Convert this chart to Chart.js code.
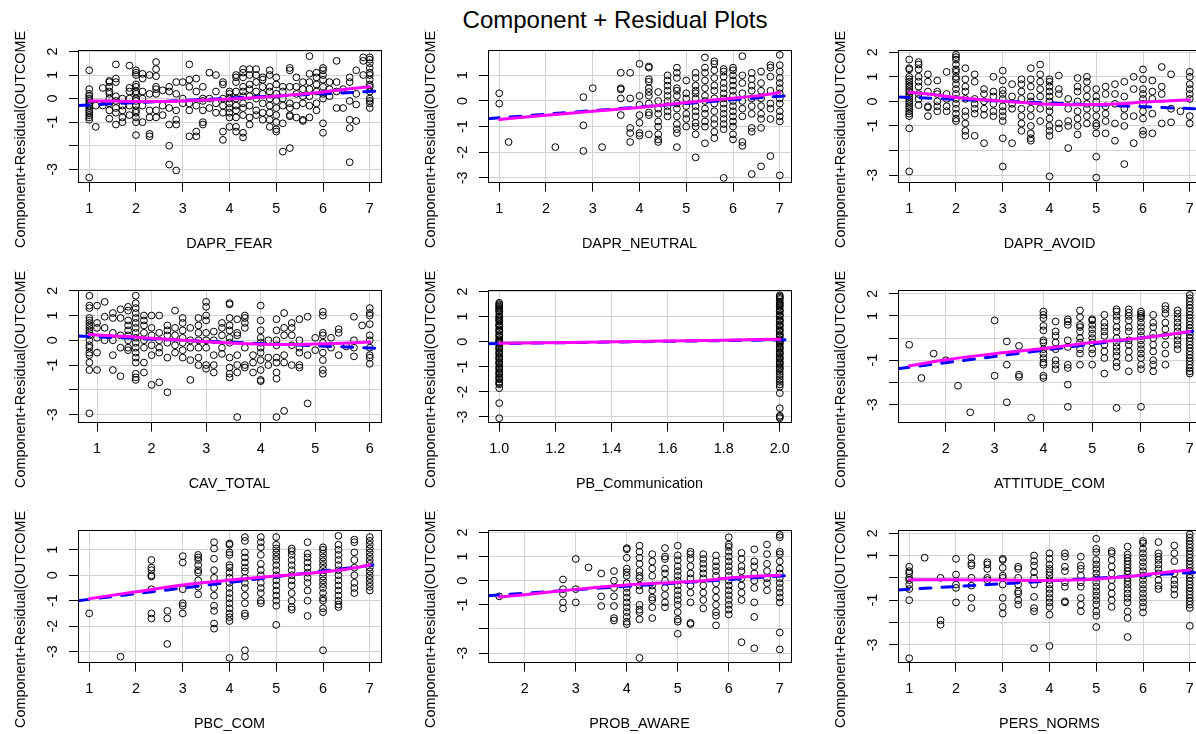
<!DOCTYPE html>
<html>
<head>
<meta charset="utf-8">
<script src="https://cdn.jsdelivr.net/npm/chart.js@4.4.1/dist/chart.umd.min.js"></script>
<style>
  html, body { margin: 0; padding: 0; background: #fff; width: 1196px; height: 734px; overflow: hidden; position: relative; }
  #mainTitle { position: absolute; left: 0; top: 8px; width: 1230px; text-align: center;
    font: 24px "Liberation Sans", Arial, sans-serif; line-height: 24px; color: #000; }
  canvas.panel { position: absolute; }
</style>
</head>
<body>
<div id="mainTitle">Component + Residual Plots</div>
<script>
// ---------- shared labels ----------
const Y_TITLE = 'Component+Residual(OUTCOME)';
const panelNames = ['DAPR_FEAR', 'DAPR_NEUTRAL', 'DAPR_AVOID', 'CAV_TOTAL', 'PB_Communication',
                    'ATTITUDE_COM', 'PBC_COM', 'PROB_AWARE', 'PERS_NORMS'];

// ---------- DAPR_FEAR ----------
const fearX = [1,1.14,1.29,1.43,1.57,1.71,1.86,2,2.14,2.29,2.43,2.57,2.71,2.86,3,3.14,3.29,3.43,3.57,3.71,3.86,4,4.14,4.29,4.43,4.57,4.71,4.86,5,5.14,5.29,5.43,5.57,5.71,5.86,6,6.14,6.29,6.43,6.57,6.71,6.86,7];
const fearY = [
  [1.2,0.4,0.2,0.1,0,-0.1,-0.2,-0.3,-0.4,-0.5,-0.6,-0.7,-0.8,-0.9,-3.35],
  [-1.2,-0.3],
  [0.45,-0.3],
  [0.75,0.7,0.5,0.3,0.2,0,-0.2,-0.5,-0.85],
  [1.45,0.85,0.7,0.1,-0.1,-0.4,-0.6,-1.1],
  [0,-0.3,-0.5,-0.8,-1.0],
  [1.4,0.45,0.3,0,-0.3,-0.7],
  [1.2,1.1,1.0,0.6,0.5,0.3,0.2,0,-0.1,-0.3,-0.5,-0.6,-0.8,-1.0,-1.55],
  [1.05,0.85,0.3,0,-0.3,-1.0],
  [1.0,0.2,-0.5,-0.8,-1.5,-1.6],
  [1.55,1.25,0.95,0.5,0.4,0.2,-0.5,-0.8],
  [0.35,-0.3,-0.7],
  [0.5,0.3,-0.4,-1.1,-2.0,-2.8],
  [0.7,0.2,-0.5,-0.9,-1.1,-3.05],
  [0.7,0,-0.2],
  [1.45,0.8,0.5,-0.2,-0.5,-1.6],
  [0.85,0.3,-0.3,-1.4,-1.6],
  [0.5,0,-0.1,-0.5,-1.0,-1.1],
  [1.1,0,-0.4],
  [1.0,0.3,-0.2,-0.6],
  [0.7,0.6,0,-0.3,-0.6,-1.4,-1.75],
  [0.3,0.2,0,-0.2,-0.4,-0.6,-0.8,-1.2],
  [1.0,0.9,0.7,0.3,0,-0.3,-0.5,-0.8,-1.2,-1.4],
  [1.25,1.1,0.9,0.5,0.3,0.1,-0.2,-0.4,-0.7,-1.45,-1.65],
  [1.25,1.0,0.6,0.4,0.1,-0.3,-0.8,-1.1],
  [1.25,1.0,0.7,0.3,0,-0.5,-0.7],
  [0.9,0.8,0.5,0.2,-0.2,-0.6,-0.9],
  [1.2,1.0,0.5,0.3,0,-0.3,-0.6,-0.9,-1.2],
  [0.9,0.6,0.2,-0.1,-0.4,-0.7,-1.0,-1.3,-1.4],
  [0.5,0.3,0,-0.3,-1.05,-2.25],
  [1.3,1.2,0.5,-0.2,-0.4,-0.7,-0.75,-2.1],
  [0.9,0.5,0.2,-0.3,-0.8],
  [0.7,0.4,0.1,-0.2,-0.9,-0.95],
  [1.8,1.05,0.7,0.4,0.1,-0.3,-0.8],
  [1.1,0.9,0.6,0.3,-0.2,-0.5],
  [1.3,1.2,1.0,0.8,0.5,0.2,0,-1.05,-1.45],
  [0.7,0.4,0.1],
  [1.6,0.7,0.3,-0.4],
  [0.4,-0.4],
  [0.9,0.7,-0.1,-0.9,-1.25,-2.7],
  [1.2,0.2,-0.25,-0.95],
  [1.75,1.6,1.0],
  [1.75,1.65,1.5,1.3,1.1,1.0,0.8,0.6,0.5,0.3,0,-0.1,-0.2,-0.4]
];
const fearFit = [[0.76,-0.29],[7.24,0.32]];
const fearSmooth = [[1,-0.1],[1.5,-0.1],[2,-0.12],[2.5,-0.12],[3,-0.1],[3.5,-0.06],[4,-0.02],[4.5,0.04],[5,0.1],[5.5,0.18],[6,0.28],[6.5,0.4],[7,0.5]];

// ---------- DAPR_NEUTRAL ----------
const neutralX = [1,1.2,2.2,2.8,3,3.2,3.6,3.8,4,4.2,4.4,4.6,4.8,5,5.2,5.4,5.6,5.8,6,6.2,6.4,6.6,6.8,7];
const neutralY = [
  [0.3,-0.1],
  [-1.6],
  [-1.8],
  [0.15,-0.95,-1.95],
  [0.5],
  [-1.8],
  [1.1,0.5,0.45,0.1,-0.55],
  [1.1,0.1,-1.05,-1.25,-1.6],
  [1.45,0.2,-0.15,-0.55,-0.85,-1.25,-1.35],
  [1.35,1.3,0.85,0.75,0.5,0.35,0.2,-0.1,-0.45,-0.55,-1.3],
  [0.35,0,-0.3,-0.5,-0.8,-1.0,-1.3,-1.5,-1.6],
  [1.0,0.8,0.6,0.4,0.2,0,-0.2,-0.4,-0.6],
  [1.3,1.1,0.9,0.5,0.4,0.2,-0.1,-0.3,-0.6,-0.9,-1.1,-1.25,-1.8],
  [0.8,0.3,0.1,-0.2,-0.5,-0.7,-1.0],
  [1.1,0.9,0.6,0.4,0.3,0.1,-0.2,-0.4,-0.6,-0.85,-1.0,-1.3,-2.2],
  [1.7,1.3,1.1,0.8,0.5,0.2,0,-0.3,-0.5,-0.8,-1.0,-1.65],
  [1.55,1.45,1.2,0.9,0.6,0.4,0.1,-0.1,-0.4,-0.7,-0.9,-1.2,-1.45],
  [1.25,1.15,0.95,0.7,0.5,0.3,0.1,-0.1,-0.3,-0.5,-0.7,-0.9,-1.1,-3.0],
  [1.3,1.2,1.0,0.8,0.6,0.4,0.2,0,-0.2,-0.4,-0.6,-0.8,-1.0,-1.3,-1.5],
  [1.75,1.0,0.7,0.3,0,-0.3,-0.6,-1.6,-1.75],
  [1.1,0.85,0.6,0.4,0.1,-0.2,-0.5,-1.05,-1.2,-2.85],
  [1.15,0.7,0.4,0.1,-0.2,-0.5,-0.7,-1.05,-2.55],
  [1.4,1.3,0.95,0.4,-0.1,-0.3,-0.7,-2.15],
  [1.8,1.4,1.15,0.9,0.7,0.5,0.3,0.1,-0.1,-0.4,-0.6,-0.8,-2.9]
];
const neutralFit = [[0.76,-0.69],[7.24,0.22]];
const neutralSmooth = [[1,-0.72],[2,-0.56],[3,-0.4],[4,-0.25],[4.5,-0.16],[5,-0.06],[5.5,0.03],[6,0.11],[6.5,0.2],[7,0.33]];

// ---------- DAPR_AVOID ----------
const avoidX = [1,1.2,1.4,1.6,1.8,2,2.2,2.4,2.6,2.8,3,3.2,3.4,3.6,3.8,4,4.2,4.4,4.6,4.8,5,5.2,5.4,5.6,5.8,6,6.2,6.4,6.6,6.8,7];
const avoidY = [
  [1.7,1.35,1.3,1.0,0.9,0.8,0.7,0.6,0.5,0.4,0.3,0.2,0.1,0,-0.1,-0.2,-0.3,-0.4,-0.5,-0.6,-1.1,-2.85],
  [1.6,1.5,1.3,1.0,0.8,0.6,0.3,0.1,-0.15],
  [1.1,0.8,0.4,-0.2,-0.25,-0.6],
  [0.85,0.4,0.3,0,-0.2,-0.4],
  [1.2,0.3,0.1,-0.2,-0.4],
  [1.9,1.8,1.7,1.5,1.3,1.2,1.0,0.9,0.7,0.5,0.3,0.1,-0.1,-0.3,-0.5,-0.7,-0.8],
  [1.35,0.9,0.6,0.4,0.1,-0.4,-0.6,-0.9,-1.2,-1.4],
  [1.1,0.8,0.1,-0.1,-0.3,-0.5,-1.4],
  [0.5,0.3,0,-0.3,-0.55,-1.7],
  [1.0,0.4,0.2,-0.1,-0.4,-0.6],
  [1.25,0.85,0.45,0.3,0.1,-0.2,-0.4,-0.6,-0.8,-1.5,-2.65],
  [0.7,0.2,-0.1,-0.3,-1.7],
  [0.9,0.7,0.4,0.1,-0.3,-0.6,-0.9,-1.2],
  [1.35,0.9,0.6,0.2,0,-0.3,-0.6,-1.0,-1.3,-1.5,-1.6],
  [1.5,1.1,0.8,0.5,0.2,-0.3,-0.8],
  [0.9,0.8,0.6,0.4,0.2,0,-0.2,-0.4,-0.7,-1.0,-1.2,-1.4,-3.05],
  [1.05,0.5,0.3,-0.9,-1.1],
  [0.1,-0.3,-0.8,-1.0,-1.9],
  [0.95,0.6,0.4,0,-0.4,-0.7,-1.0,-1.35],
  [1.0,0.8,0.5,0.2,-0.1,-0.3,-0.6,-0.9],
  [0.5,0.2,0,-0.3,-0.6,-0.9,-1.0,-1.3,-2.25,-3.1],
  [0.6,0.3,-0.2,-0.5,-0.8,-1.3],
  [0.7,0.3,-0.1,-0.9,-1.6],
  [0.8,0.2,-0.3,-0.6,-1.0,-2.55],
  [1.0,0.5,-0.6,-1.7],
  [1.3,0.9,0.5,0.3,0.1,-0.1,-0.4,-0.7,-1.2,-1.35],
  [0.85,0.4,0.1,-0.5,-1.3],
  [1.4,0.6,0.3,-0.9],
  [1.1,-0.3,-0.85],
  [-0.4],
  [1.2,1.0,0.7,0.5,0.3,0.1,-0.6,-0.9]
];
const avoidFit = [[0.76,0.18],[7.24,-0.31]];
const avoidSmooth = [[1,0.37],[1.5,0.28],[2,0.16],[2.5,0.08],[3,0.01],[3.5,-0.06],[4,-0.12],[4.5,-0.14],[5,-0.13],[5.5,-0.1],[6,-0.03],[6.5,0.02],[7,0.07]];

// ---------- CAV_TOTAL ----------
const cavX = [0.86,1,1.14,1.29,1.43,1.57,1.71,1.86,2,2.14,2.29,2.43,2.57,2.71,2.86,3,3.14,3.29,3.43,3.57,3.71,3.86,4,4.14,4.29,4.43,4.57,4.71,4.86,5,5.14,5.29,5.43,5.57,5.71,5.86,6];
const cavY = [
  [1.8,1.4,1.3,0.9,0.8,0.7,0.6,0.5,0.4,0.3,0.2,0,-0.2,-0.3,-0.5,-0.6,-0.9,-1.2,-2.95],
  [1.4,0.7,0.5,0.1,-0.5,-1.2],
  [1.55,0.95,0.5,0],
  [1.1,0.9,0.3,0,-0.6,-1.2],
  [1.25,0.9,0.2,-0.3,-1.45],
  [1.35,1.2,0.8,0.6,0.4,0.2,0,-0.3,-0.4],
  [1.8,1.5,1.3,1.1,0.9,0.7,0.5,0.3,0.1,-0.1,-0.3,-0.5,-0.7,-0.9,-1.35,-1.5,-1.6],
  [1.0,0.8,0.6,0.3,0,-0.3,-0.9,-1.3],
  [1.0,0.5,0.2,-0.2,-0.6,-1.8],
  [1.0,0.3,0,-0.3,-0.5,-1.7],
  [0.6,0.4,0.2,-0.1,-0.7,-2.1],
  [1.2,0.5,0.2,-0.2,-0.5],
  [0.9,0.7,0.4,0.1,-0.1,-0.4,-0.7],
  [0.5,0,-0.3,-0.8,-1.6],
  [0.9,0.6,0.3,0,-0.3,-0.7,-1.0],
  [1.55,1.35,1.0,0.8,0.3,0,-0.3,-1.0,-1.15],
  [0.35,0,-0.6,-1.0,-1.3],
  [0.7,0.5,0.2,-0.3,-0.55],
  [1.5,1.45,0.9,0.6,0.4,0.1,-0.1,-0.7,-1.1,-1.35,-1.5],
  [0.85,0.3,0.2,-0.6,-1.0,-1.3,-3.1],
  [1.0,0.9,0.7,0.5,-0.3,-1.0,-1.1],
  [-0.6,-0.9,-1.3],
  [1.4,0.8,0.4,0.1,-0.1,-0.3,-0.5,-0.8,-1.2,-1.6,-1.65],
  [0,-0.7,-1.0],
  [0.85,0.4,0,-0.2,-0.7,-0.9,-1.3,-1.55,-3.1],
  [1.1,0.5,0.2,-0.6,-0.9,-2.85],
  [0.7,0.5,0.2,-0.2,-1.0],
  [0.85,0,-0.3,-0.5,-1.0,-1.1],
  [0.95,-0.6,-2.55],
  [0.1,-0.4],
  [1.15,1.0,0.3,0.2,-0.1,-0.5,-0.8,-1.2,-1.35],
  [0.1,-0.3],
  [0.45,0.3,-0.6],
  [-0.25],
  [0.95,0,-0.3,-0.65],
  [0.6],
  [1.3,1.1,1.0,0.65,0.2,0,-0.3,-0.6,-0.7,-0.95]
];
const cavFit = [[0.651,0.17],[6.206,-0.33]];
const cavSmooth = [[0.86,0.23],[1.5,0.16],[2,0.08],[2.5,0.01],[3,-0.06],[3.5,-0.12],[4,-0.16],[4.5,-0.17],[5,-0.15],[5.5,-0.12],[6,-0.07]];

// ---------- PB_Communication ----------
const commX = [1, 2];
const commY = [
  [1.55,1.5,1.45,1.4,1.35,1.3,1.25,1.2,1.1,1.0,0.95,0.9,0.85,0.8,0.7,0.65,0.6,0.5,0.45,0.4,0.3,0.25,0.2,0.1,0.05,0,-0.05,-0.1,-0.2,-0.25,-0.3,-0.4,-0.45,-0.5,-0.6,-0.65,-0.7,-0.8,-0.85,-0.9,-1.0,-1.05,-1.1,-1.2,-1.25,-1.3,-1.4,-1.45,-1.5,-1.6,-1.65,-1.7,-1.85,-2.45,-3.05],
  [1.85,1.8,1.75,1.7,1.6,1.55,1.5,1.45,1.4,1.3,1.25,1.2,1.1,1.05,1.0,0.9,0.85,0.8,0.7,0.65,0.6,0.5,0.45,0.4,0.3,0.25,0.2,0.1,0.05,0,-0.05,-0.1,-0.2,-0.25,-0.3,-0.4,-0.45,-0.5,-0.6,-0.65,-0.7,-0.8,-0.85,-0.9,-1.0,-1.05,-1.1,-1.2,-1.3,-1.4,-1.5,-1.6,-1.7,-1.8,-2.05,-2.65,-2.95,-3.0,-3.05]
];
const commFit = [[0.96,-0.08],[2.04,0.08]];
const commSmooth = [[1,-0.06],[1.25,-0.03],[1.5,0.01],[1.75,0.05],[2,0.1]];

// ---------- ATTITUDE_COM ----------
const attX = [1.25,1.5,1.75,2,2.25,2.5,3,3.25,3.5,3.75,4,4.25,4.5,4.75,5,5.25,5.5,5.75,6,6.25,6.5,6.75,7];
const attY = [
  [-0.3],
  [-1.8],
  [-0.7],
  [-1.0],
  [-2.15],
  [-3.35],
  [0.8,-1.7],
  [-0.15,-1.2,-2.9],
  [-0.35,-1.65,-1.75],
  [-3.6],
  [1.2,1.05,0.9,0.55,0.35,-0.1,-0.2,-0.5,-0.7,-0.9,-1.1,-1.2,-1.7,-1.8],
  [0.75,0.3,0.1,-0.2,-0.5,-1.0,-1.2,-1.4],
  [0.85,0.75,0.6,-0.1,-0.4,-1.2,-1.35,-2.1,-3.1],
  [1.25,0.95,0.6,0.5,0.3,0,-0.2,-0.5,-0.7,-1.2],
  [0.85,0.8,0.6,0.4,0.2,0,-0.2,-0.5,-0.7,-1.2],
  [1.05,0.7,0.5,0.3,0.1,-0.3,-0.6,-0.9,-1.6],
  [1.3,1.2,1.0,0.8,0.5,0.3,0,-0.2,-0.4,-0.6,-0.8,-1.1,-1.3,-3.15],
  [1.3,1.15,1.0,0.8,0.5,0.3,-0.1,-0.3,-0.6,-0.9,-1.5],
  [1.2,1.1,1.0,0.9,0.7,0.5,0.3,0.1,-0.1,-0.3,-0.5,-0.7,-0.9,-1.2,-1.4,-3.1],
  [1.05,0.7,0.5,0.2,0,-0.3,-0.6,-1.0,-1.2,-1.5],
  [1.45,1.3,1.1,0.7,0.4,0.1,-0.3,-0.7,-1.2],
  [1.25,1.1,0.9,0.7,0.5,0.3,0.1,-0.1,-0.3,-0.5],
  [1.95,1.8,1.65,1.5,1.35,1.2,1.05,0.9,0.75,0.6,0.45,0.3,0.15,0,-0.15,-0.3,-0.45,-0.6,-0.75,-0.9,-1.05,-1.2,-1.35,-1.5,-1.6]
];
const attFit = [[1.02,-1.38],[7.23,0.35]];
const attSmooth = [[1.25,-1.25],[2,-0.98],[3,-0.7],[4,-0.47],[5,-0.2],[6,0.0],[7,0.3]];

// ---------- PBC_COM ----------
const pbcX = [1,1.67,2.33,2.67,3,3.33,3.67,4,4.33,4.67,5,5.33,5.67,6,6.33,6.67,7];
const pbcY = [
  [-1.5],
  [-3.2],
  [0.6,0.3,0.2,0,-0.05,-0.55,-1.5,-1.7],
  [-1.4,-1.7,-2.7],
  [0.75,0.5,-0.55,-1.1,-1.2,-1.5],
  [0.8,0.7,0.6,0.4,0.2,0.1,-0.2,-0.45,-0.75],
  [1.3,1.05,0.65,0.2,-0.1,-0.5,-0.8,-1.2,-1.4,-1.9,-2.1],
  [1.25,1.2,0.9,0.8,0.4,0.3,0.1,-0.1,-0.3,-0.5,-0.7,-0.9,-1.1,-1.3,-1.5,-1.65,-1.8,-3.25],
  [1.5,1.35,0.9,0.7,0.5,0.3,0.15,-0.1,-0.3,-0.5,-0.8,-1.1,-1.5,-1.6,-2.95,-3.2],
  [1.5,1.3,1.1,0.8,0.45,0.2,0,-0.3,-0.5,-0.7,-1.0,-1.1],
  [1.5,1.2,1.05,0.9,0.75,0.6,0.4,0.2,0,-0.2,-0.4,-0.6,-0.8,-1.0,-1.2,-1.95],
  [1.05,0.95,0.8,0.6,0.4,0.2,0,-0.2,-0.4,-0.7,-1.0,-1.25,-1.35],
  [1.3,0.85,0.7,0.5,0.3,0.1,-0.1,-0.3,-0.6,-1.0,-1.6],
  [1.1,1.0,0.85,0.7,0.55,0.4,0.25,0.1,-0.05,-0.2,-0.35,-0.5,-0.7,-0.9,-1.0,-1.3,-1.45,-2.95],
  [1.55,1.2,1.0,0.8,0.6,0.4,0.2,0,-0.2,-0.4,-0.6,-0.8,-1.0,-1.15,-1.25],
  [1.4,1.3,0.9,0.6,0.3,0,-0.3,-0.5,-0.7],
  [1.5,1.35,1.2,1.05,0.9,0.75,0.6,0.45,0.3,0.15,0,-0.15,-0.3,-0.45,-0.6]
];
const pbcFit = [[0.76,-1.0],[7.24,0.44]];
const pbcSmooth = [[1,-0.92],[2,-0.65],[3,-0.38],[4,-0.19],[5,-0.03],[6,0.13],[6.5,0.24],[7,0.4]];

// ---------- PROB_AWARE ----------
const awareX = [1.5,2.75,3,3.25,3.5,3.75,4,4.25,4.5,4.75,5,5.25,5.5,5.75,6,6.25,6.5,6.75,7];
const awareY = [
  [-0.65],
  [0.05,-0.35,-0.55,-0.9,-1.15],
  [0.9,-0.35,-0.9],
  [0.55],
  [0.3,-0.65,-1.05],
  [0.4,0,-0.3,-0.65,-1.05,-1.55,-1.65],
  [1.35,1.3,0.95,0.5,0.35,0.2,-0.1,-0.3,-0.5,-0.7,-0.9,-1.1,-1.3,-1.5,-1.7,-1.8],
  [1.45,1.2,0.95,0.7,0.4,0.2,0.1,-0.2,-0.4,-1.0,-1.2,-1.3,-1.6,-3.2],
  [1.1,0.8,0.5,0.2,-0.2,-0.4,-0.7,-0.8,-1.1,-1.55],
  [1.35,1.0,0.9,0.5,0.3,0,-0.3,-0.6,-0.9,-1.1],
  [1.45,1.05,0.85,0.6,0.4,0.2,0,-0.2,-0.4,-0.6,-0.8,-1.0,-1.3,-1.6,-1.7,-2.2],
  [1.2,1.1,0.9,0.6,0.3,0.1,-0.2,-0.5,-0.9,-1.75,-1.8],
  [1.1,0.9,0.7,0.5,0.3,0.1,-0.2,-0.5,-0.8,-1.15],
  [1.05,0.8,0.6,0.4,0.2,-0.1,-0.4,-0.7,-1.0,-1.3,-1.45,-1.85],
  [1.8,1.5,1.4,1.2,1.0,0.8,0.6,0.4,0.2,0,-0.2,-0.4,-0.6,-0.8,-1.0,-1.2,-1.4],
  [1.15,0.9,0.6,0.4,0.1,-0.2,-0.5,-0.8,-2.55],
  [1.3,0.8,0.6,0.3,0,-0.3,-0.9,-1.5,-2.8],
  [1.5,1.1,0.7,0.4,0.1,-0.1,-0.4],
  [1.9,1.8,1.2,1.1,0.8,0.5,0.3,0.1,-0.1,-0.3,-0.5,-0.7,-0.9,-2.15,-2.85]
];
const awareFit = [[1.28,-0.62],[7.22,0.22]];
const awareSmooth = [[1.5,-0.68],[2,-0.58],[3,-0.36],[4,-0.18],[5,-0.06],[5.5,0.0],[6,0.11],[6.5,0.18],[7,0.23]];

// ---------- PERS_NORMS ----------
const normsX = [1,1.33,1.67,2,2.33,2.67,3,3.33,3.67,4,4.33,4.67,5,5.33,5.67,6,6.33,6.67,7];
const normsY = [
  [0.5,0.3,0.2,0,-0.1,-0.3,-0.5,-1.0,-3.6],
  [0.9],
  [0,-1.9,-2.1],
  [0.85,0.15,-0.3,-0.45,-1.1],
  [0.9,0.65,0.55,0,-0.35,-0.9,-1.35],
  [0.7,0.6,0.4,0,-0.1],
  [0.85,0.8,0.45,0.1,0,-0.3,-0.9,-1.3,-1.6],
  [0.5,0.4,0,-0.3,-0.6,-0.7,-1.0,-1.2],
  [1.0,0.75,0.55,0.25,0,-0.3,-0.85,-1.35,-1.5,-3.15],
  [1.1,0.85,0.6,0.4,0.25,0.1,-0.1,-0.3,-0.5,-0.7,-0.9,-1.1,-1.3,-1.65,-3.05],
  [1.1,0.95,0.5,0.3,-0.2,-0.4,-1.05,-1.1],
  [0.95,0.55,0.4,0.1,-0.2,-0.4,-0.9,-1.2,-1.5],
  [1.75,1.3,1.15,0.8,0.6,0.4,0.2,0,-0.2,-0.4,-0.6,-0.8,-1.0,-1.2,-1.5,-1.7,-2.2],
  [1.2,1.1,0.8,0.5,0.2,-0.1,-0.4,-0.7,-1.0,-1.3],
  [1.4,1.05,0.9,0.75,0.6,0.45,0.3,0.15,0,-0.15,-0.3,-0.5,-0.7,-0.9,-1.1,-1.5,-1.8,-2.65],
  [1.65,1.55,1.3,1.1,0.9,0.7,0.5,0.3,0.1,-0.1,-0.3,-0.5,-0.7,-0.9,-1.1,-1.3,-1.55],
  [1.6,1.1,0.95,0.8,0.6,0.4,0.2,-0.1,-0.35,-0.5],
  [1.45,1.1,0.75,0.2,-0.1,-0.3,-0.5,-0.75],
  [1.95,1.8,1.65,1.5,1.35,1.2,1.05,0.9,0.75,0.6,0.45,0.3,0.15,0,-0.15,-0.3,-0.45,-0.6,-0.75,-0.9,-1.05,-1.2,-1.35,-2.15]
];
const normsFit = [[0.76,-0.54],[7.24,0.26]];
const normsSmooth = [[1,-0.09],[2,-0.08],[3,-0.1],[4,-0.12],[4.5,-0.1],[5,-0.05],[5.5,0.03],[6,0.13],[6.5,0.25],[7,0.35]];

// ---------- axis ticks ----------
const ticks1to7 = [1,2,3,4,5,6,7];
const ticks1to6 = [1,2,3,4,5,6];
const ticks2to7 = [2,3,4,5,6,7];
const ticksComm = [1.0,1.2,1.4,1.6,1.8,2.0];
const ticksCommLabels = ['1.0','1.2','1.4','1.6','1.8','2.0'];
const yTicksFull = [-3,-2,-1,0,1,2];
const yTicksShort = [-3,-2,-1,0,1];
// labels R leaves out where neighbours would collide
const yLabelsNoM2 = ['-3','','-1','0','1','2'];
const yLabelsAll = ['-3','-2','-1','0','1','2'];
const yLabelsShort = ['-3','-2','-1','0','1'];
const yLabelsSparse = ['-3','','-1','','1','2'];

const xLimits = [[0.76,7.24],[0.76,7.24],[0.76,7.24],[0.651,6.206],[0.96,2.04],[1.02,7.23],[0.76,7.24],[1.28,7.22],[0.76,7.24]];
const yLimits = [[-3.56,2.04],[-3.18,1.97],[-3.3,2.07],[-3.32,2.01],[-3.22,2.04],[-3.81,2.15],[-3.43,1.76],[-3.39,2.08],[-3.79,2.12]];

const panelX = [fearX, neutralX, avoidX, cavX, commX, attX, pbcX, awareX, normsX];
const panelY = [fearY, neutralY, avoidY, cavY, commY, attY, pbcY, awareY, normsY];
const panelFit = [fearFit, neutralFit, avoidFit, cavFit, commFit, attFit, pbcFit, awareFit, normsFit];
const panelSmooth = [fearSmooth, neutralSmooth, avoidSmooth, cavSmooth, commSmooth, attSmooth, pbcSmooth, awareSmooth, normsSmooth];
const panelXTicks = [ticks1to7, ticks1to7, ticks1to7, ticks1to6, ticksComm, ticks2to7, ticks1to7, ticks2to7, ticks1to7];
const panelXLabels = [null, null, null, null, ticksCommLabels, null, null, null, null];
const panelYTicks = [yTicksFull, yTicksShort, yTicksFull, yTicksFull, yTicksFull, yTicksFull, yTicksShort, yTicksFull, yTicksFull];
const panelYLabels = [yLabelsNoM2, yLabelsShort, yLabelsNoM2, yLabelsNoM2, yLabelsAll, yLabelsSparse, yLabelsShort, yLabelsNoM2, yLabelsSparse];

// ---------- drawing ----------
const FONT = { family: '"Liberation Sans", Arial, sans-serif', size: 14.4 };
const PANEL_W = 410, PANEL_H = 240, TOP_OFFSET = 30;

// box around the plotting region plus the rotated y label
const framePlugin = {
  id: 'frame',
  afterDraw(chart) {
    const { ctx, chartArea: a } = chart;
    ctx.save();
    ctx.strokeStyle = '#000';
    ctx.lineWidth = 1;
    const x0 = Math.round(a.left) + 0.5, y0 = Math.floor(a.top) + 0.5;
    const x1 = Math.round(a.right) + 0.5, y1 = Math.floor(a.bottom) + 0.5;
    ctx.strokeRect(x0, y0, x1 - x0, y1 - y0);
    ctx.translate(25, 218);
    ctx.rotate(-Math.PI / 2);
    ctx.font = '14.4px "Liberation Sans", Arial, sans-serif';
    ctx.fillStyle = '#000';
    ctx.textAlign = 'left';
    ctx.textBaseline = 'alphabetic';
    ctx.fillText(Y_TITLE, 0, 0);
    ctx.restore();
  }
};

panelNames.forEach((name, i) => {
  const col = i % 3, row = Math.floor(i / 3);
  const canvas = document.createElement('canvas');
  canvas.className = 'panel';
  canvas.width = PANEL_W;
  canvas.height = PANEL_H;
  canvas.style.left = (col * PANEL_W) + 'px';
  canvas.style.top = (TOP_OFFSET + row * PANEL_H) + 'px';
  document.body.appendChild(canvas);

  const pts = [];
  const xs = panelX[i], ys = panelY[i];
  xs.forEach((x, k) => (ys[k] || []).forEach(y => pts.push({ x, y })));

  const xTicks = panelXTicks[i], xLabels = panelXLabels[i];
  const yTicks = panelYTicks[i], yLabels = panelYLabels[i];

  new Chart(canvas, {
    type: 'scatter',
    data: {
      datasets: [
        {
          type: 'line',
          data: panelSmooth[i].map(([x, y]) => ({ x, y })),
          borderColor: '#ff00ff',
          borderWidth: 3,
          borderCapStyle: 'round',
          borderJoinStyle: 'round',
          cubicInterpolationMode: 'monotone',
          pointRadius: 0,
          fill: false,
          order: 0
        },
        {
          type: 'line',
          data: panelFit[i].map(([x, y]) => ({ x, y })),
          borderColor: '#0000ff',
          borderWidth: 3,
          borderDash: [11, 11],
          borderCapStyle: 'round',
          pointRadius: 0,
          fill: false,
          order: 1
        },
        {
          data: pts,
          pointStyle: 'circle',
          pointRadius: 3.4,
          pointBorderWidth: 1,
          pointBorderColor: '#000',
          pointBackgroundColor: 'rgba(0,0,0,0)',
          order: 2
        }
      ]
    },
    options: {
      responsive: false,
      animation: false,
      devicePixelRatio: 1,
      events: [],
      layout: { padding: { top: 20.5, right: 29, bottom: 0, left: 0 } },
      plugins: { legend: { display: false }, tooltip: { enabled: false } },
      scales: {
        x: {
          type: 'linear',
          min: xLimits[i][0],
          max: xLimits[i][1],
          afterBuildTicks: s => { s.ticks = xTicks.map(v => ({ value: v })); },
          afterFit: s => { s.height = 87.5; },
          ticks: {
            autoSkip: false, minRotation: 0, maxRotation: 0, padding: 8.5,
            color: '#000', font: FONT,
            callback: (v, k) => xLabels ? xLabels[k] : String(v)
          },
          grid: { color: '#d3d3d3', lineWidth: 1, tickColor: '#000', tickLength: 9, drawTicks: true },
          border: { display: false },
          title: { display: true, text: name, color: '#000', font: FONT, padding: { top: 0, bottom: 17 } }
        },
        y: {
          type: 'linear',
          min: yLimits[i][0],
          max: yLimits[i][1],
          afterBuildTicks: s => { s.ticks = yTicks.map(v => ({ value: v })); },
          afterFit: s => { s.width = 78; },
          ticks: {
            autoSkip: false, minRotation: 90, maxRotation: 90, padding: 9.6,
            crossAlign: 'center', color: '#000', font: FONT,
            callback: (v, k) => yLabels[k]
          },
          grid: { color: '#d3d3d3', lineWidth: 1, tickColor: '#000', tickLength: 9, drawTicks: true },
          border: { display: false }
        }
      }
    },
    plugins: [framePlugin]
  });
});
</script>
</body>
</html>
